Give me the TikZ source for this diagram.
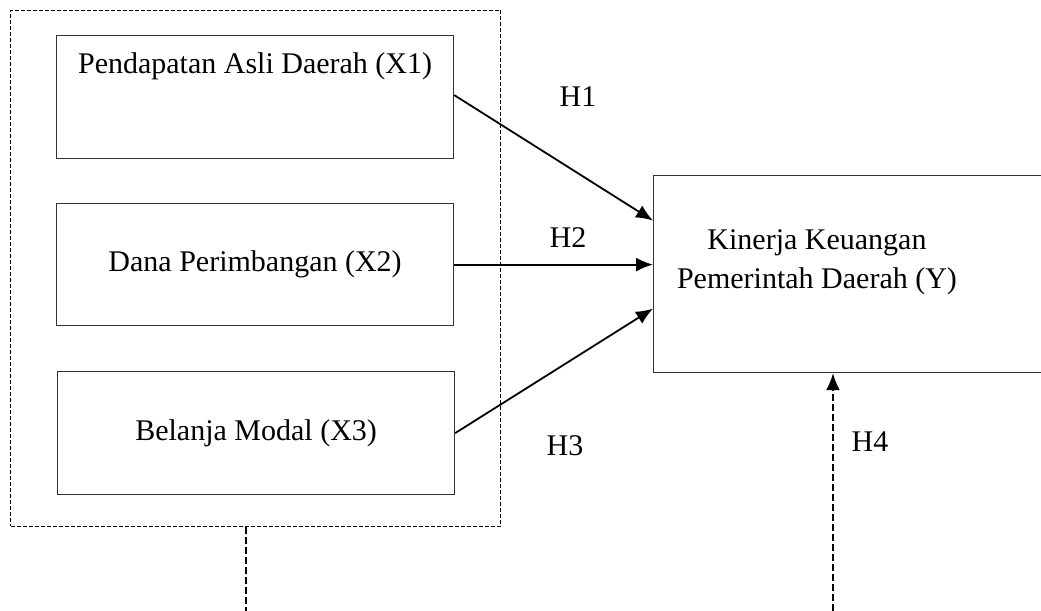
\documentclass[tikz,border=0pt]{standalone}
\usepackage{fontspec}
\setmainfont{Liberation Serif}
\usetikzlibrary{arrows.meta,positioning}

\tikzset{
	varbox/.style={draw=black!80, line width=0.6pt, rectangle, inner sep=0pt, anchor=north west},
	hyp/.style={inner sep=0pt, font=\fontsize{15}{19.5}\selectfont},
	link/.style={->, line width=0.9pt},
	guide/.style={line width=0.9pt, dash pattern=on 3.5pt off 1.5pt}
}

\begin{document}
\begin{tikzpicture}[x=0.5pt, y=-0.5pt, >={Latex[length=8.5pt,width=7pt]},
	font=\fontsize{15}{19.5}\selectfont]

\useasboundingbox (0,0) rectangle (1041,611);

% group of independent variables
\node[varbox, draw=black, line width=0.5pt, dash pattern=on 2pt off 1pt,
	minimum width=245pt, minimum height=258pt] (group) at (10,9.5) {};

\node[varbox, minimum width=198.5pt, minimum height=61.5pt] (x1) at (56,35) {};
\node[hyp, anchor=north] (x1txt) at ([yshift=-8.8pt]x1.north) {Pendapatan Asli Daerah (X1)};
\node[varbox, minimum width=198.5pt, minimum height=61pt] (x2) at (56,203) {Dana Perimbangan (X2)};
\node[varbox, minimum width=198.5pt, minimum height=61.5pt] (x3) at (57,371) {Belanja Modal (X3)};

% dependent variable
\node[varbox, minimum width=196pt, minimum height=98.5pt] (y) at (653,175) {};
\node[hyp, align=center] (ytxt) at (817,262) {Kinerja Keuangan\\Pemerintah Daerah (Y)};

\draw[link] ([yshift=1pt]x1.east) -- ([yshift=26.75pt]y.west);
\draw[link] (x2.east) -- (x2.east -| y.west);
\draw[link] (x3.east) -- ([yshift=-17.25pt]y.west);

\node[hyp] (h1) at (578,97) {H1};
\node[hyp] (h2) at (568,238) {H2};
\node[hyp] (h3) at (565,446) {H3};
\node[hyp] (h4) at (870,442) {H4};

% moderating paths
\coordinate (gfoot) at (246,611);
\coordinate (yfoot) at (833,611);
\draw[guide] (gfoot |- group.south) -- (gfoot);
\draw[guide, ->] (yfoot) -- (yfoot |- y.south);

\end{tikzpicture}
\end{document}
